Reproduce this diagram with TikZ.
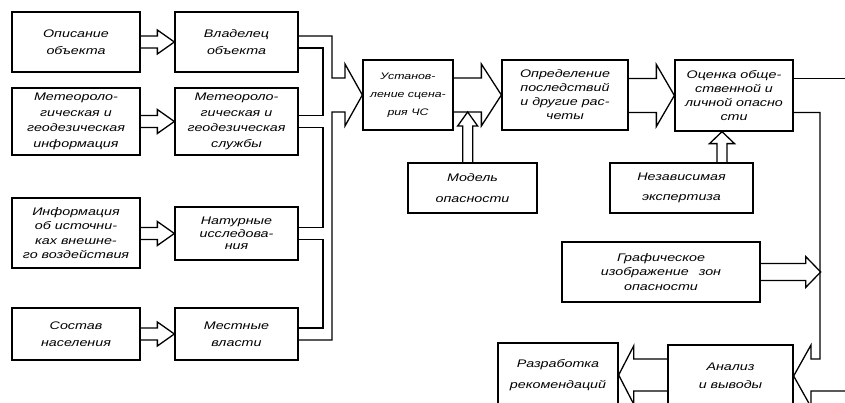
\documentclass[tikz,border=0pt]{standalone}
\usepackage{fontspec}
\newfontfamily\gost[FakeStretch=1.3]{Liberation Sans}
\usetikzlibrary{calc}
\tikzset{
  box/.style={draw, line width=1.3pt, align=center, inner sep=2pt,
    font=\gost\itshape\fontsize{11}{14.5}\selectfont},
  conn/.style={draw, line width=1.3pt, line join=miter},
}
% horizontal hollow arrow: #1 start, #2 tip, #3 shaft half, #4 head half, #5 signed head length
\newcommand\hollowH[5]{\draw[conn] let \p1=(#1), \p2=(#2) in
  (\x1,\y2+#3) -- (\x2+#5,\y2+#3) -- (\x2+#5,\y2+#4) -- (\x2,\y2)
  -- (\x2+#5,\y2-#4) -- (\x2+#5,\y2-#3) -- (\x1,\y2-#3);}
% vertical hollow arrow
\newcommand\hollowV[5]{\draw[conn] let \p1=(#1), \p2=(#2) in
  (\x2-#3,\y1) -- (\x2-#3,\y2+#5) -- (\x2-#4,\y2+#5) -- (\x2,\y2)
  -- (\x2+#4,\y2+#5) -- (\x2+#3,\y2+#5) -- (\x2+#3,\y1);}
\begin{document}
\begin{tikzpicture}[x=1pt,y=1pt]
\useasboundingbox (0,0) rectangle (845,403);
\clip (0,0) rectangle (845,403);
% left column
\node[box, minimum width=128pt, minimum height=60pt, font=\gost\itshape\fontsize{11}{17}\selectfont] (a1) at (76,361) {Описание\\объекта};
\node[box, minimum width=128pt, minimum height=67pt, font=\gost\itshape\fontsize{11}{15.5}\selectfont] (a2) at (76,281.5) {Метеороло-\\гическая и\\геодезическая\\информация};
\node[box, minimum width=128pt, minimum height=70pt] (a3) at (76,170) {Информация\\об источни-\\ках внешне-\\го воздействия};
\node[box, minimum width=128pt, minimum height=52pt, font=\gost\itshape\fontsize{11}{17}\selectfont] (a4) at (76,69) {Состав\\населения};
% second column
\node[box, minimum width=123pt, minimum height=60pt, font=\gost\itshape\fontsize{11}{17}\selectfont] (b1) at (236.5,361) {Владелец\\объекта};
\node[box, minimum width=123pt, minimum height=67pt, font=\gost\itshape\fontsize{11}{15.5}\selectfont] (b2) at (236.5,281.5) {Метеороло-\\гическая и\\геодезическая\\службы};
\node[box, minimum width=123pt, minimum height=53pt, font=\gost\itshape\fontsize{11}{12.5}\selectfont] (b3) at (236.5,169.5) {Натурные\\исследова-\\ния};
\node[box, minimum width=123pt, minimum height=52pt, font=\gost\itshape\fontsize{11}{17}\selectfont] (b4) at (236.5,69) {Местные\\власти};
% main chain
\node[box, minimum width=90pt, minimum height=70pt, font=\gost\itshape\fontsize{9.5}{18}\selectfont] (c) at (408,308) {Установ-\\ление сцена-\\рия ЧС};
\node[box, minimum width=126pt, minimum height=70pt, font=\gost\itshape\fontsize{11}{14}\selectfont] (d) at (565,308) {Определение\\последствий\\и другие рас-\\четы};
\node[box, minimum width=129pt, minimum height=50pt, font=\gost\itshape\fontsize{11}{21}\selectfont] (m) at (472.5,215) {Модель\\опасности};
\node[box, minimum width=118pt, minimum height=71pt, font=\gost\itshape\fontsize{11}{14}\selectfont] (e) at (734,307.5) {Оценка обще-\\ственной и\\личной опасно\\сти};
\node[box, minimum width=143pt, minimum height=50pt, font=\gost\itshape\fontsize{11}{20}\selectfont] (n) at (681.5,215) {Независимая\\экспертиза};
\node[box, minimum width=198pt, minimum height=60pt] (g) at (661,131) {Графическое\\изображение\hspace{10pt}зон\\опасности};
\node[box, minimum width=125pt, minimum height=62pt, font=\gost\itshape\fontsize{11}{18}\selectfont] (an) at (730.5,27) {Анализ\\и выводы};
\node[box, minimum width=120pt, minimum height=64pt, font=\gost\itshape\fontsize{11}{21}\selectfont] (r) at (558,28) {Разработка\\рекомендаций};
% left arrows
\hollowH{a1.east}{b1.west}{6pt}{12pt}{-17pt}
\hollowH{a2.east}{b2.west}{6pt}{12pt}{-17pt}
\hollowH{a3.east}{b3.west}{6pt}{12pt}{-17pt}
\hollowH{a4.east}{b4.west}{6pt}{12pt}{-17pt}
% collecting channel
\draw[conn] let \p1=(b1.east), \p2=(c.west), \p3=(b4.east) in
  (\x1,\y1+6pt) -- (332,\y1+6pt) -- (332,\y2+17pt) -- (345,\y2+17pt) -- (345,\y2+31pt)
  -- (\x2,\y2) -- (345,\y2-31pt) -- (345,\y2-17pt) -- (332,\y2-17pt) -- (332,\y3-6pt) -- (\x3,\y3-6pt);
\draw[conn] let \p1=(b1.east), \p2=(b2.east) in
  (\x1,\y1-6pt) -- (323,\y1-6pt) -- (323,\y2+6pt) -- (\x2,\y2+6pt);
\draw[conn] let \p1=(b2.east), \p2=(b3.east) in
  (\x1,\y1-6pt) -- (323,\y1-6pt) -- (323,\y2+6pt) -- (\x2,\y2+6pt);
\draw[conn] let \p1=(b3.east), \p2=(b4.east) in
  (\x1,\y1-6pt) -- (323,\y1-6pt) -- (323,\y2+6pt) -- (\x2,\y2+6pt);
% chain arrows
\hollowH{c.east}{d.west}{17pt}{31pt}{-20pt}
\hollowH{d.east}{e.west}{17pt}{31pt}{-18pt}
\coordinate (mtip) at ([xshift=14pt,yshift=-17pt]c.east);
\hollowV{m.north}{mtip}{5pt}{10pt}{-14pt}
\coordinate (ntip) at ([xshift=-12pt]e.south);
\hollowV{n.north}{ntip}{5pt}{12.5pt}{-12pt}
% right channel
\draw[conn] ([yshift=17pt]e.east) -- ++(52,0) coordinate (outR);
\draw[conn] let \p1=(e.east), \p2=(an.east) in
  (\x1,\y1-17pt) -- (820,\y1-17pt) -- (820,\y2+17pt) -- (811,\y2+17pt) -- (811,\y2+31pt)
  -- (\x2,\y2) -- (811,\y2-31pt) -- (811,\y2-15pt) -- (845,\y2-15pt) coordinate (outB);
\path (g.east) ++(60,0) coordinate (gtip);
\hollowH{g.east}{gtip}{8.5pt}{15.5pt}{-15pt}
\hollowH{an.west}{r.east}{16pt}{29pt}{15pt}
\end{tikzpicture}
\end{document}
